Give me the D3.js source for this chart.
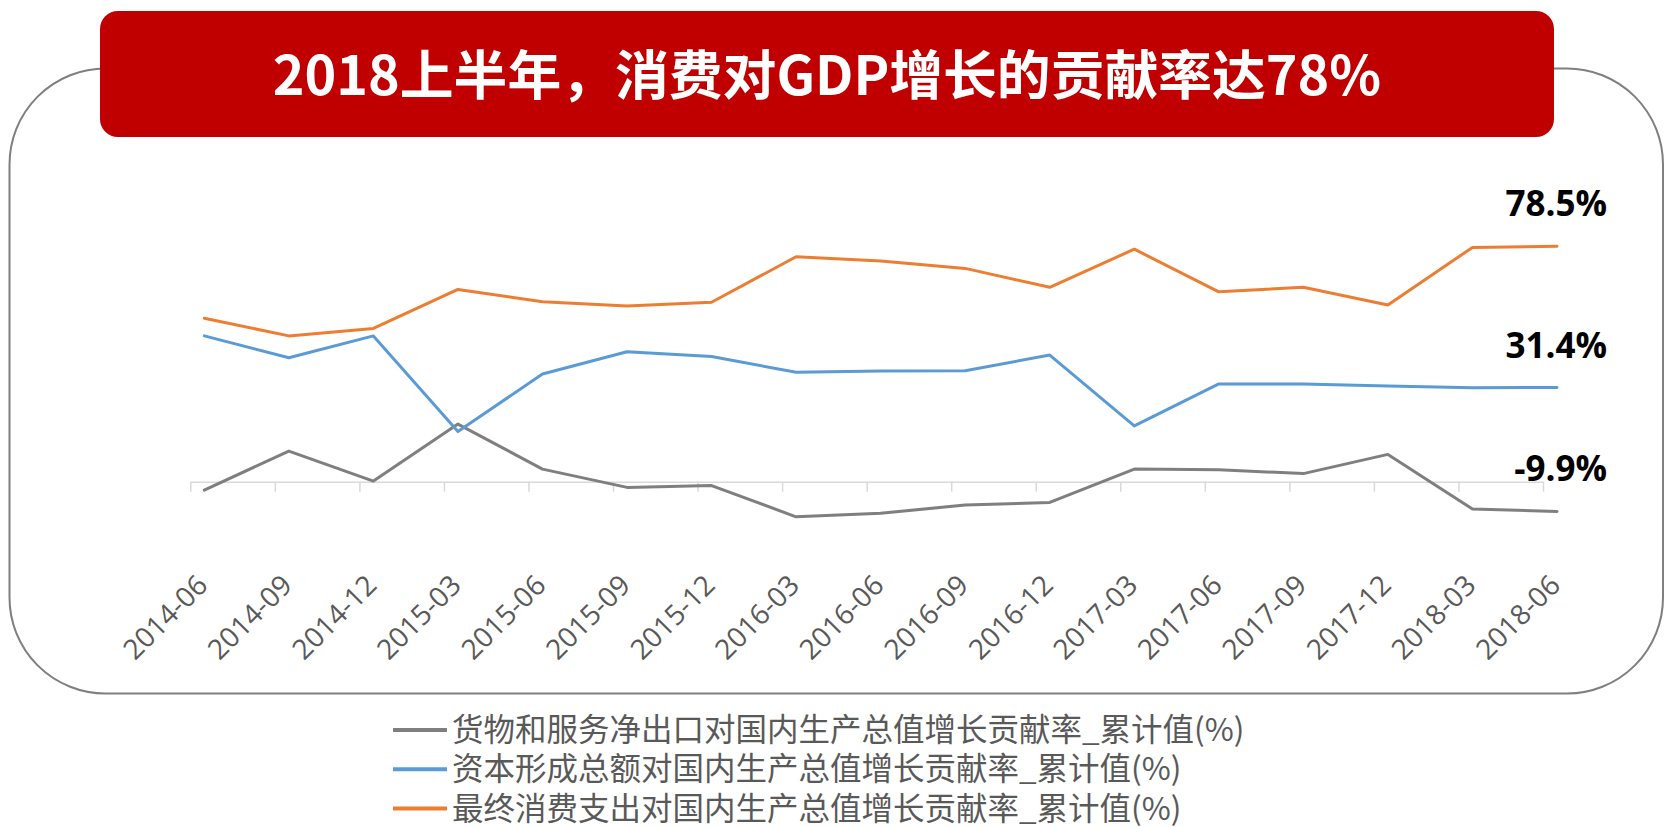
<!DOCTYPE html>
<html>
<head>
<meta charset="utf-8">
<script src="https://cdn.jsdelivr.net/npm/d3@7"></script>
<style>
  body { margin: 0; background: #fff; }
  svg { display: block; }
</style>
</head>
<body>
<div id="chart"></div>
<script>
// data (cumulative contribution to GDP growth, %)
const dates = ['2014-06', '2014-09', '2014-12', '2015-03', '2015-06', '2015-09', '2015-12',
  '2016-03', '2016-06', '2016-09', '2016-12', '2017-03', '2017-06', '2017-09', '2017-12',
  '2018-03', '2018-06']
const netExport = [-2.8, 10.2, 0.2, 19.2, 4.2, -1.9, -1.3, -11.7, -10.5, -7.8, -6.9, 4.2, 4.0, 2.7, 9.1, -9.1, -9.9]
const capital = [48.6, 41.3, 48.6, 16.7, 35.9, 43.3, 41.7, 36.5, 36.9, 37.0, 42.2, 18.6, 32.6, 32.6, 31.9, 31.3, 31.4]
const consumption = [54.5, 48.6, 51.1, 64.1, 60.0, 58.6, 59.8, 75.0, 73.6, 71.1, 64.8, 77.5, 63.3, 64.8, 58.9, 78.1, 78.5]
const seriesNames = [
  '货物和服务净出口对国内生产总值增长贡献率_累计值(%)',
  '资本形成总额对国内生产总值增长贡献率_累计值(%)',
  '最终消费支出对国内生产总值增长贡献率_累计值(%)'
]
const title = '2018上半年，消费对GDP增长的贡献率达78%'

function draw() {
  const series = [
    { name: seriesNames[0], values: netExport, color: '#7f7f7f' },
    { name: seriesNames[1], values: capital, color: '#5b9bd5' },
    { name: seriesNames[2], values: consumption, color: '#ed7d31' }
  ]

  let dimensions = {
    width: 1665,
    height: 827
  }

  const svg = d3.select('#chart')
    .append('svg')
    .attr('width', dimensions.width)
    .attr('height', dimensions.height)

  // rounded frame behind everything
  svg.append('rect')
    .attr('x', 9.5)
    .attr('y', 68.5)
    .attr('width', 1653.5)
    .attr('height', 625)
    .attr('rx', 96)
    .attr('fill', 'none')
    .attr('stroke', '#7f7f7f')
    .attr('stroke-width', 2)

  // red title banner
  svg.append('rect')
    .attr('x', 100)
    .attr('y', 11)
    .attr('width', 1454)
    .attr('height', 126)
    .attr('rx', 18)
    .attr('fill', '#c00000')

  const titleText = svg.append('text')
    .attr('x', 827)
    .attr('y', 95)
    .attr('text-anchor', 'middle')
    .attr('fill', '#fff')
    .style('font-family', '"Noto Sans CJK SC", sans-serif')
    .style('font-weight', 'bold')
    .style('font-size', '56px')
    .text(title)
  // fit title to the banner width seen in the picture
  const tw = titleText.node().getComputedTextLength()
  titleText.style('font-size', (56 * 1109 / tw).toFixed(1) + 'px')

  // scales
  const xScale = d3.scalePoint()
    .domain(dates)
    .range([204.3, 1557])

  const yScale = d3.scaleLinear()
    .domain([-30, 100])
    .range([571.7, 181.7])

  // category axis at value 0 (ticks sit a little left of the points)
  const xAxis = d3.axisBottom(xScale)
    .tickSize(10)
    .tickSizeOuter(0)
    .tickFormat('')

  const xAxisGroup = svg.append('g')
    .attr('transform', `translate(-14, ${yScale(0)})`)
    .call(xAxis)
  xAxisGroup.selectAll('path, line')
    .attr('stroke', '#d9d9d9')
    .attr('stroke-width', 1.5)

  // rotated category labels at the bottom of the plot area
  svg.append('g')
    .selectAll('text')
    .data(dates)
    .join('text')
    .attr('transform', d => `translate(${xScale(d) + 5}, 587) rotate(-45)`)
    .attr('text-anchor', 'end')
    .attr('fill', '#595959')
    .style('font-family', '"Open Sans", sans-serif')
    .style('font-size', '28px')
    .text(d => d)

  // lines
  const line = d3.line()
    .x((d, i) => xScale(dates[i]))
    .y(d => yScale(d))

  svg.append('g')
    .selectAll('path')
    .data(series)
    .join('path')
    .attr('d', d => line(d.values))
    .attr('fill', 'none')
    .attr('stroke', d => d.color)
    .attr('stroke-width', 3)
    .attr('stroke-linejoin', 'round')
    .attr('stroke-linecap', 'round')

  // end value labels
  const last = dates[dates.length - 1]
  const lastValue = d => d.values[d.values.length - 1]
  svg.append('g')
    .selectAll('text')
    .data(series)
    .join('text')
    .attr('x', xScale(last) + 50)
    .attr('y', d => yScale(lastValue(d)) - 30)
    .attr('text-anchor', 'end')
    .attr('fill', '#000')
    .style('font-family', '"Open Sans", sans-serif')
    .style('font-weight', 'bold')
    .style('font-size', '35px')
    .text(d => lastValue(d).toFixed(1) + '%')

  // legend
  const legend = svg.append('g')
    .selectAll('g')
    .data(series)
    .join('g')
    .attr('transform', (d, i) => `translate(393, ${730 + i * 39.3})`)

  legend.append('line')
    .attr('x1', 0)
    .attr('x2', 54)
    .attr('stroke', d => d.color)
    .attr('stroke-width', 4)

  legend.append('text')
    .attr('x', 59)
    .attr('y', 11)
    .attr('fill', '#595959')
    .style('font-family', '"Noto Sans CJK SC", sans-serif')
    .style('font-size', '31.5px')
    .text(d => d.name)
}

draw()
</script>
</body>
</html>
